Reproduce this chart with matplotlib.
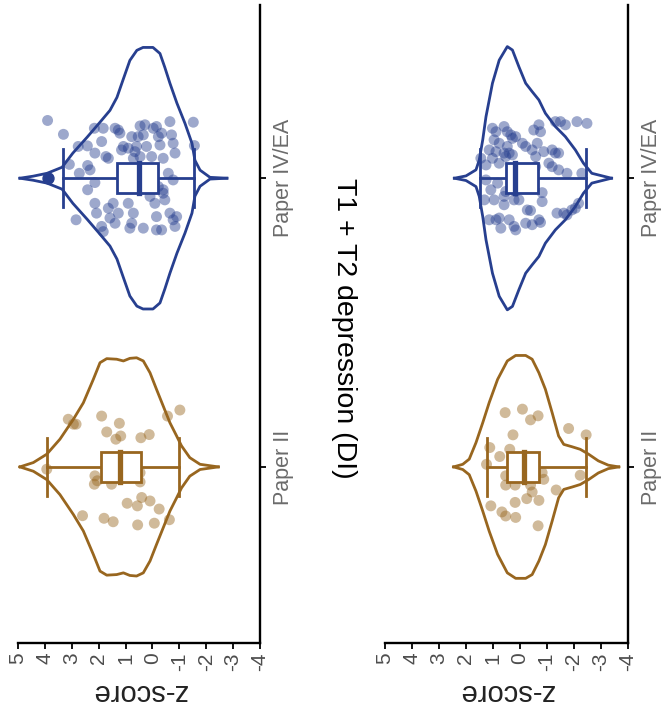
import matplotlib.pyplot as plt
from matplotlib.patches import Rectangle

plt.rcParams['font.family'] = ['Liberation Sans', 'DejaVu Sans']

BLUE = '#273f8f'
BROWN = '#98661f'

categories = ['Paper II', 'Paper IV/EA']
z_ticks = [5, 4, 3, 2, 1, 0, -1, -2, -3, -4]

# ---- panel A (left) : Paper IV/EA ----
a_ea_violin_z = [4.93, 4.44, 3.92, 3.36, 2.96, 2.43, 1.95, 1.58, 1.32, 1.10, 0.84, 0.58,
                 0.35, -0.02, -0.28, -0.46, -0.65, -0.91, -1.21, -1.47, -1.58, -1.77, -2.14, -2.77]
a_ea_violin_w = [0, 0.007, 0.017, 0.038, 0.087, 0.142, 0.194, 0.235, 0.280, 0.339, 0.408, 0.443,
                 0.453, 0.453, 0.432, 0.384, 0.329, 0.260, 0.190, 0.121, 0.062, 0.028, 0.003, 0]
a_ea_box = [3.33, 1.32, 0.50, -0.20, -1.54]   # whisker, q3, median, q1, whisker
a_ea_outliers = [3.88]
a_ea_pts_z = [3.90, 3.31, 3.09, 2.72, 2.76, 2.42, 2.41, 2.32, 2.14, 2.16, 1.83, 1.89, 1.73, 1.64,
              1.39, 1.21, 1.27, 1.08, 0.90, 0.77, 0.71, 0.59, 0.53, 0.46, 0.28, 0.22, 0.03, -0.03,
              -0.15, -0.22, -0.28, -0.40, -0.34, -0.65, -0.71, -0.77, -0.84, -0.59, -1.52, -1.56,
              2.41, 2.14, 2.14, 2.08, 2.84, 1.83, 1.89, 1.64, 1.46, 1.58, 1.27, 1.39, 0.90, 0.84,
              0.71, 0.77, 0.34, 0.09, -0.09, -0.15, -0.15, -0.34, -0.40, -0.46, -0.65, -0.77,
              -0.84, -0.90, -0.77, -0.22, -0.40, 0.65, 0.46, 0.34, 1.15]
a_ea_pts_j = [0.200, 0.152, 0.048, 0.017, 0.110, 0.112, 0.044, 0.029, 0.087, 0.173, 0.173, 0.127,
              0.075, 0.069, 0.173, 0.156, 0.167, 0.110, 0.104, 0.144, 0.069, 0.110, 0.144, 0.181,
              0.185, 0.110, 0.075, 0.173, 0.179, 0.144, 0.115, 0.069, 0.156, 0.196, 0.150, 0.121,
              0.087, 0.017, 0.194, 0.113,
              -0.040, -0.015, -0.087, -0.121, -0.144, -0.185, -0.167, -0.104, -0.087, -0.138,
              -0.121, -0.156, -0.087, -0.173, -0.121, -0.156, -0.173, -0.063, -0.087, -0.133,
              -0.179, -0.179, -0.052, -0.075, -0.121, -0.144, -0.167, -0.133, -0.006, -0.029,
              -0.040, 0.092, 0.075, 0.150, 0.098]

# ---- panel A (left) : Paper II ----
a_ii_violin_z = [4.93, 4.43, 3.93, 3.44, 2.94, 2.57, 2.20, 1.95, 1.70, 1.33, 1.08, 0.84, 0.59,
                 0.34, 0.09, -0.15, -0.40, -0.65, -0.90, -1.08, -1.39, -1.77, -2.45]
a_ii_violin_w = [0, 0.015, 0.044, 0.096, 0.165, 0.222, 0.303, 0.361, 0.375, 0.373, 0.367, 0.376,
                 0.378, 0.367, 0.326, 0.269, 0.211, 0.153, 0.107, 0.073, 0.032, 0.009, 0]
a_ii_box = [3.92, 1.91, 1.21, 0.43, -0.99]
a_ii_outliers = []
a_ii_pts_z = [3.13, 2.94, 2.84, 1.89, 1.23, 1.70, 1.36, 1.18, 0.43, 0.12, -0.56, -1.02, 3.93,
              2.14, 2.16, 2.05, 1.52, 0.46, 0.46, 0.94, 0.56, 0.40, 0.09, -0.25, -0.63, 2.60,
              1.80, 1.46, 0.55, -0.07]
a_ii_pts_j = [0.165, 0.148, 0.148, 0.176, 0.151, 0.121, 0.096, 0.107, 0.101, 0.112, 0.176, 0.197,
              -0.008, -0.031, -0.060, -0.048, -0.060, -0.020, -0.052, -0.126, -0.135, -0.106,
              -0.118, -0.146, -0.183, -0.169, -0.178, -0.190, -0.201, -0.195]

# ---- panel B (right) : Paper IV/EA ----
b_ea_violin_z = [2.43, 2.00, 1.63, 1.51, 1.38, 1.26, 1.02, 0.77, 0.47, 0.28, 0.04, -0.21, -0.45,
                 -0.70, -0.94, -1.31, -1.68, -2.05, -2.35, -2.66, -3.39]
b_ea_violin_w = [0, 0.008, 0.029, 0.063, 0.133, 0.213, 0.329, 0.409, 0.456, 0.444, 0.386, 0.329,
                 0.300, 0.271, 0.225, 0.179, 0.144, 0.098, 0.052, 0.017, 0]
b_ea_box = [1.47, 0.53, 0.18, -0.67, -2.45]
b_ea_outliers = []
b_ea_pts_z = [1.02, 0.89, 0.59, 0.47, 0.34, 0.28, 0.16, 0.96, 0.77, 0.47, 1.14, 0.89, 0.59, 0.40,
              0.28, 0.53, 1.02, 1.45, 1.26, 0.77, -0.09, -0.21, -0.45, -0.51, -0.70, -0.76,
              -0.64, -0.88, -1.19, -1.31, -1.43, -1.07, -1.19, -1.43, -1.74, -2.29, -1.50, -1.68,
              -2.11, -2.48, -0.58, -0.58, -1.31,
              1.26, 0.83, 1.08, 1.32, 0.96, 0.59, 0.59, 0.22, 0.04, 0.16, 0.53, -0.82, -0.82,
              -0.27, -0.39, 1.14, 0.89, 0.77, 0.71, 0.40, 0.22, 0.16, -0.21, -0.45, -0.70, -0.76,
              -1.37, -1.74, -2.05, -2.17, -1.62, -1.92]
b_ea_pts_j = [0.173, 0.161, 0.179, 0.161, 0.150, 0.138, 0.144, 0.133, 0.121, 0.110, 0.098, 0.092,
              0.087, 0.087, 0.081, 0.075, 0.069, 0.069, 0.046, 0.052, 0.121, 0.110, 0.098, 0.167,
              0.185, 0.161, 0.121, 0.092, 0.098, 0.087, 0.087, 0.052, 0.040, 0.029, 0.017, 0.017,
              0.196, 0.185, 0.196, 0.190, 0.075, 0.040, 0.196,
              -0.006, -0.017, -0.040, -0.075, -0.075, -0.063, -0.092, -0.075, -0.075, -0.046,
              -0.046, -0.050, -0.081, -0.110, -0.112, -0.144, -0.144, -0.138, -0.173, -0.144,
              -0.167, -0.179, -0.156, -0.161, -0.144, -0.153, -0.121, -0.127, -0.104, -0.087,
              -0.121, -0.110]

# ---- panel B (right) : Paper II ----
b_ii_violin_z = [2.46, 2.12, 1.88, 1.63, 1.38, 1.14, 0.83, 0.47, 0.16, -0.21, -0.45, -0.70, -0.94,
                 -1.19, -1.43, -1.62, -1.92, -2.23, -2.54, -2.90, -3.27, -3.66]
b_ii_violin_w = [0, 0.009, 0.027, 0.084, 0.153, 0.223, 0.303, 0.367, 0.386, 0.386, 0.373, 0.326,
                 0.269, 0.188, 0.107, 0.078, 0.070, 0.061, 0.044, 0.021, 0.006, 0]
b_ii_box = [1.24, 0.50, -0.15, -0.70, -2.45]
b_ii_outliers = []
b_ii_pts_z = [0.55, -0.09, -0.39, -0.67, -1.80, -2.45, 0.26, 1.12, 0.38, 0.75, 1.24, -0.82, -0.88,
              -2.23, 0.53, 0.53, 0.18, -0.39, -0.45, -1.34, -0.25, -0.70, 0.18, 1.08, 0.67, 0.53,
              0.16, -0.67]
b_ii_pts_j = [0.188, 0.200, 0.163, 0.177, 0.133, 0.111, 0.111, 0.067, 0.061, 0.036, 0.009, -0.020,
              -0.043, -0.029, -0.031, -0.063, -0.063, -0.063, -0.087, -0.080, -0.110, -0.116,
              -0.123, -0.135, -0.156, -0.170, -0.175, -0.204]


def draw_group(ax, pos, color, vz, vw, pz, pj, box, outliers):
    upper = [pos + w for w in vw]
    lower = [pos - w for w in vw]
    ax.fill_between(vz, lower, upper, facecolor='white', edgecolor='none', zorder=1)
    ax.plot(vz, upper, color=color, lw=2.0, zorder=4, solid_joinstyle='round')
    ax.plot(vz, lower, color=color, lw=2.0, zorder=4, solid_joinstyle='round')

    ax.scatter(pz, [pos + j for j in pj], s=62, color=color, alpha=0.45,
               edgecolors='none', zorder=2)

    lo, q3, med, q1, hi = box
    bh, ch = 0.052, 0.10
    ax.plot([lo, q3], [pos, pos], color=color, lw=2.0, zorder=5)
    ax.plot([q1, hi], [pos, pos], color=color, lw=2.0, zorder=5)
    ax.plot([lo, lo], [pos - ch, pos + ch], color=color, lw=2.0, zorder=5)
    ax.plot([hi, hi], [pos - ch, pos + ch], color=color, lw=2.0, zorder=5)
    ax.add_patch(Rectangle((q1, pos - bh), q3 - q1, 2 * bh, facecolor='white',
                           edgecolor=color, lw=2.0, zorder=6))
    ax.plot([med, med], [pos - bh, pos + bh], color=color, lw=3.8, zorder=7)
    if outliers:
        ax.scatter(outliers, [pos] * len(outliers), s=62, color=color, zorder=8)


def style_axes(ax):
    ax.set_xlim(5, -4)
    ax.set_ylim(-0.61, 1.60)
    for s in ['top', 'left']:
        ax.spines[s].set_visible(False)
    for s in ['bottom', 'right']:
        ax.spines[s].set_linewidth(1.7)
        ax.spines[s].set_color('black')
    ax.set_xticks(z_ticks)
    ax.set_xticklabels([str(t) for t in z_ticks])
    ax.tick_params(axis='x', length=4, width=1.3, labelsize=15, labelrotation=90,
                   labelcolor='#4d4d4d', pad=3)
    ax.yaxis.tick_right()
    ax.set_yticks([0, 1])
    ax.set_yticklabels(categories)
    ax.tick_params(axis='y', length=4, width=1.3, labelsize=15.5, labelcolor='#6b6b6b', pad=5)
    for lab in ax.get_yticklabels():
        lab.set_rotation(90)
        lab.set_va('center')
    ax.set_xlabel('z-score', rotation=180, fontsize=21, labelpad=5, color='#222222')


fig = plt.figure(figsize=(6.65, 7.17), dpi=100)
ax_a = fig.add_axes([18 / 665, 74 / 717, 242 / 665, 638 / 717])
ax_b = fig.add_axes([385 / 665, 74 / 717, 243 / 665, 638 / 717])

draw_group(ax_a, 1, BLUE, a_ea_violin_z, a_ea_violin_w, a_ea_pts_z, a_ea_pts_j, a_ea_box, a_ea_outliers)
draw_group(ax_a, 0, BROWN, a_ii_violin_z, a_ii_violin_w, a_ii_pts_z, a_ii_pts_j, a_ii_box, a_ii_outliers)
draw_group(ax_b, 1, BLUE, b_ea_violin_z, b_ea_violin_w, b_ea_pts_z, b_ea_pts_j, b_ea_box, b_ea_outliers)
draw_group(ax_b, 0, BROWN, b_ii_violin_z, b_ii_violin_w, b_ii_pts_z, b_ii_pts_j, b_ii_box, b_ii_outliers)

style_axes(ax_a)
style_axes(ax_b)

fig.text(344 / 665, 1 - 328 / 717, 'T1 + T2 depression (DI)', rotation=270,
         ha='center', va='center', fontsize=20.5, color='black')

fig.savefig('out.png', dpi=100)
